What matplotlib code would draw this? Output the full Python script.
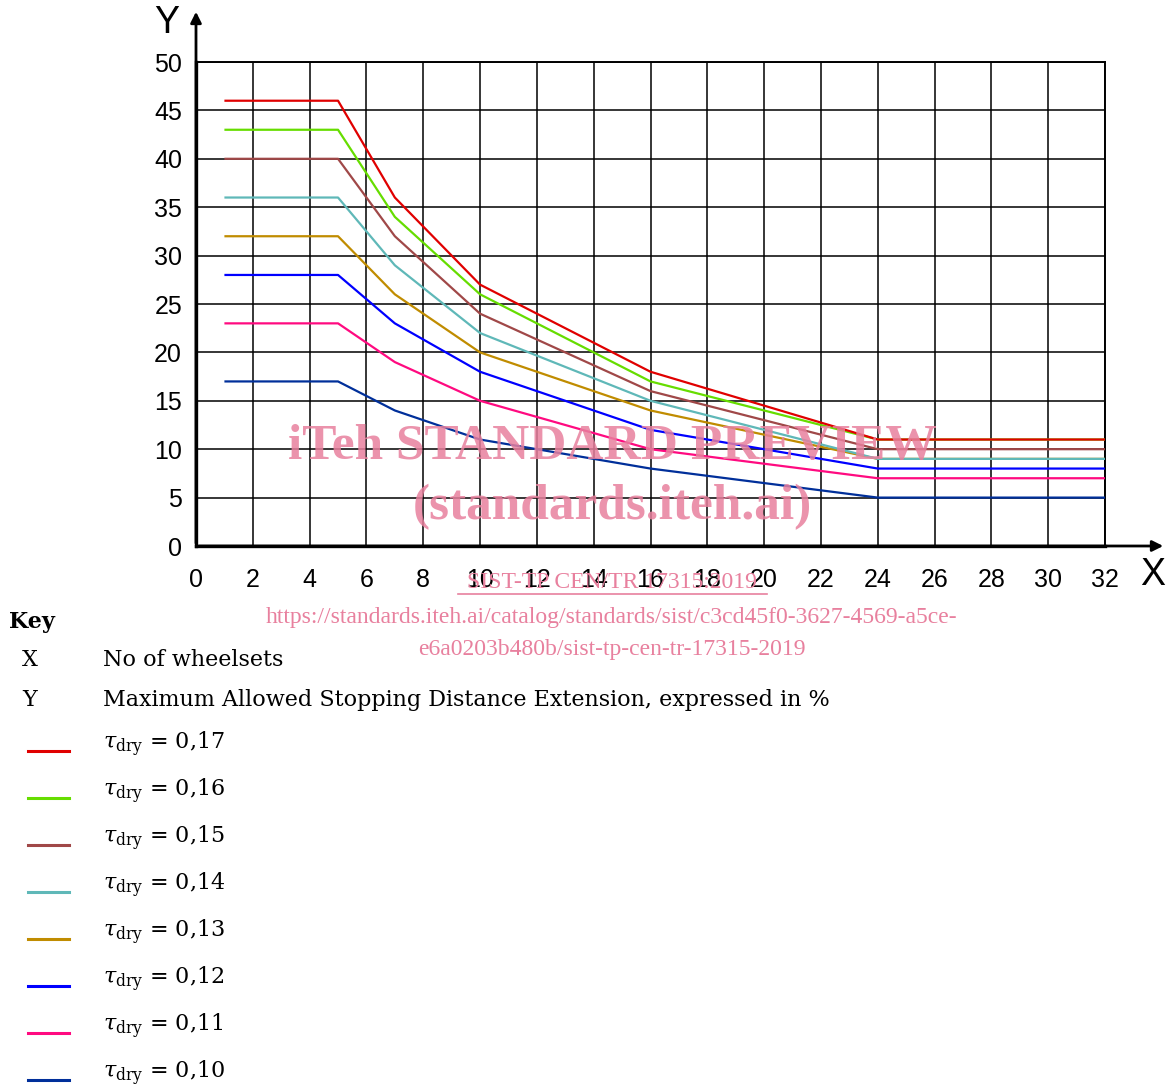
import matplotlib as mpl
mpl.use('Agg')
import matplotlib.pyplot as plt
from matplotlib.lines import Line2D

W, H = 1170, 1091

wheelsets = [1, 5, 7, 10, 16, 24, 32]
labels = ["0,17", "0,16", "0,15", "0,14", "0,13", "0,12", "0,11", "0,10"]
colors = ['#e00000', '#66dd00', '#a04848', '#5fb8b8', '#c08c00', '#0000ff', '#ff0a80', '#002f9a']
series = [
    [46, 46, 36, 27, 18, 11, 11],
    [43, 43, 34, 26, 17, 11, 11],
    [40, 40, 32, 24, 16, 10, 10],
    [36, 36, 29, 22, 15, 9, 9],
    [32, 32, 26, 20, 14, 9, 9],
    [28, 28, 23, 18, 12, 8, 8],
    [23, 23, 19, 15, 10, 7, 7],
    [17, 17, 14, 11, 8, 5, 5],
]
xticks = list(range(0, 33, 2))
yticks = list(range(0, 51, 5))

plt.rcParams['mathtext.fontset'] = 'dejavuserif'

fig = plt.figure(figsize=(W / 100, H / 100), dpi=100)

def fx(px):
    return px / W

def fy(py):
    return 1 - py / H

ax = fig.add_axes([fx(196), fy(546), fx(1105) - fx(196), fy(62) - fy(546)])

# draw lowest series first so upper ones sit on top
for vals, c in reversed(list(zip(series, colors))):
    ax.plot(wheelsets, vals, color=c, lw=1.6, solid_capstyle='butt', zorder=3)

ax.set_xlim(0, 32)
ax.set_ylim(0, 50)
ax.set_xticks(xticks)
ax.set_yticks(yticks)
ax.grid(True, color='black', lw=1.1)
ax.tick_params(length=0, labelsize=18)
ax.tick_params(axis='x', pad=16)
ax.tick_params(axis='y', pad=10)
for lab in ax.get_xticklabels() + ax.get_yticklabels():
    lab.set_fontfamily('Liberation Sans')
for s in ['top', 'right']:
    ax.spines[s].set_linewidth(1.4)
for s in ['left', 'bottom']:
    ax.spines[s].set_linewidth(2.4)

# axis arrows
ax.annotate('', xy=(fx(196), fy(9)), xytext=(fx(196), fy(546)), xycoords='figure fraction',
            arrowprops=dict(arrowstyle='-|>', color='black', lw=2, mutation_scale=16))
ax.annotate('', xy=(fx(1166), fy(546)), xytext=(fx(196), fy(546)), xycoords='figure fraction',
            arrowprops=dict(arrowstyle='-|>', color='black', lw=2, mutation_scale=16))
fig.text(fx(167), fy(23), 'Y', fontsize=27, family='Liberation Sans', ha='center', va='center')
fig.text(fx(1153), fy(575), 'X', fontsize=27, family='Liberation Sans', ha='center', va='center')

# watermark
wm = '#e8809e'
fig.text(fx(612), fy(447), 'iTeh STANDARD PREVIEW', fontsize=37, family='Liberation Serif',
         weight='bold', color=wm, alpha=0.85, ha='center', va='center', zorder=10)
fig.text(fx(612), fy(507), '(standards.iteh.ai)', fontsize=37, family='Liberation Serif',
         weight='bold', color=wm, alpha=0.85, ha='center', va='center', zorder=10)
fig.text(fx(612), fy(583), 'SIST-TP CEN/TR 17315:2019', fontsize=17, family='Liberation Serif',
         color=wm, ha='center', va='center', zorder=10)
fig.add_artist(Line2D([fx(458), fx(767)], [fy(594), fy(594)], color=wm, lw=1.2))
fig.text(fx(612), fy(617), 'https://standards.iteh.ai/catalog/standards/sist/c3cd45f0-3627-4569-a5ce-',
         fontsize=17, family='Liberation Serif', color=wm, ha='center', va='center')
fig.text(fx(612), fy(649), 'e6a0203b480b/sist-tp-cen-tr-17315-2019',
         fontsize=17, family='Liberation Serif', color=wm, ha='center', va='center')

# key
kf = 'DejaVu Serif'
fs = 16
fig.text(fx(9), fy(622), 'Key', fontsize=fs, family=kf, weight='bold', va='center')
fig.text(fx(30), fy(660), 'X', fontsize=fs, family=kf, ha='center', va='center')
fig.text(fx(103), fy(660), 'No of wheelsets', fontsize=fs, family=kf, va='center')
fig.text(fx(30), fy(700), 'Y', fontsize=fs, family=kf, ha='center', va='center')
fig.text(fx(103), fy(700), 'Maximum Allowed Stopping Distance Extension, expressed in %',
         fontsize=fs, family=kf, va='center')
for i, (lab, c) in enumerate(zip(labels, colors)):
    yl = 751 + i * 47
    fig.add_artist(Line2D([fx(28), fx(69)], [fy(yl), fy(yl)], color=c, lw=2.2))
    fig.text(fx(103), fy(yl - 7), r'$\tau_{\mathrm{dry}}$ = ' + lab, fontsize=fs, family=kf, va='center')

fig.savefig('out.png', dpi=100)
